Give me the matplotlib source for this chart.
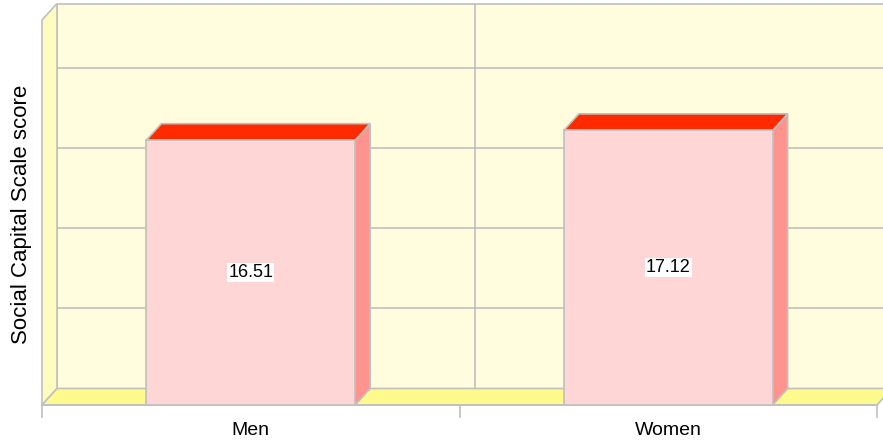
import matplotlib
matplotlib.use("Agg")
import matplotlib.pyplot as plt
from matplotlib.patches import Polygon, Rectangle

plt.rcParams['font.family'] = ['Liberation Sans', 'DejaVu Sans']

# data
categories = ['Men', 'Women']
scores = [16.51, 17.12]
y_max = 24
grid_steps = [5, 10, 15, 20]

# colours
wall_back = '#FFFDDE'
wall_left = '#FFFCC0'
floor_col = '#FFFA8C'
bar_front = '#FFD6D6'
bar_top = '#FF2A00'
bar_side = '#FF948F'
edge = '#C0C0C0'

fig = plt.figure(figsize=(8.83, 4.44), dpi=100)
ax = fig.add_axes([42 / 883, 39 / 444, 835 / 883, 385 / 444])
ax.set_xlim(-0.5, len(categories) - 0.5)
ax.set_ylim(0, y_max)
ax.axis('off')

# depth of the 3d box, in pixels, turned into data units
p0 = ax.transData.transform((0, 0))
p1 = ax.transData.transform((1, 1))
ddx = 15 / (p1[0] - p0[0])
ddy = 16.5 / (p1[1] - p0[1])

x0, x1 = -0.5, len(categories) - 0.5
lw = 1.2


def poly(pts, fc, z):
    ax.add_patch(Polygon(pts, closed=True, facecolor=fc, edgecolor=edge,
                         lw=lw, zorder=z, clip_on=False, joinstyle='miter'))


# back wall, left wall, floor
poly([(x0 + ddx, ddy), (x1 + ddx, ddy), (x1 + ddx, y_max + ddy), (x0 + ddx, y_max + ddy)], wall_back, 1)
poly([(x0, 0), (x0 + ddx, ddy), (x0 + ddx, y_max + ddy), (x0, y_max)], wall_left, 2)
poly([(x0, 0), (x1, 0), (x1 + ddx, ddy), (x0 + ddx, ddy)], floor_col, 2)

# grid on the back wall
for g in grid_steps:
    ax.plot([x0 + ddx, x1 + ddx], [g + ddy, g + ddy], color=edge, lw=lw,
            zorder=1.5, clip_on=False)
for i in range(1, len(categories)):
    ax.plot([i - 0.5 + ddx] * 2, [ddy, y_max + ddy], color=edge, lw=lw,
            zorder=1.5, clip_on=False)

# category axis and ticks
ax.plot([x0, x1], [0, 0], color=edge, lw=lw, zorder=3, clip_on=False)
tick_len = 12 / (p1[1] - p0[1])
for i in range(len(categories) + 1):
    ax.plot([i - 0.5, i - 0.5], [0, -tick_len], color=edge,
            lw=lw, zorder=3, clip_on=False)

# bars
w = 0.25
for i, (name, v) in enumerate(zip(categories, scores)):
    poly([(i + w, 0), (i + w + ddx, ddy), (i + w + ddx, v + ddy), (i + w, v)], bar_side, 4)
    poly([(i - w, v), (i + w, v), (i + w + ddx, v + ddy), (i - w + ddx, v + ddy)], bar_top, 4)
    ax.add_patch(Rectangle((i - w, 0), 2 * w, v, facecolor=bar_front,
                           edgecolor=edge, lw=lw, zorder=5, clip_on=False))
    ax.text(i, v / 2, f'{v:.2f}', ha='center', va='center', fontsize=13,
            zorder=6, bbox=dict(boxstyle='square,pad=0.06', fc='white', ec='none'))
    ax.annotate(name, xy=(i, 0), xytext=(0, -25), textcoords='offset pixels',
                ha='center', va='center', fontsize=14, annotation_clip=False)

fig.text(22 / 883, 1 - 214 / 444, 'Social Capital Scale score', rotation=90,
         ha='center', va='center', fontsize=16)

fig.savefig('out.png', dpi=100)
